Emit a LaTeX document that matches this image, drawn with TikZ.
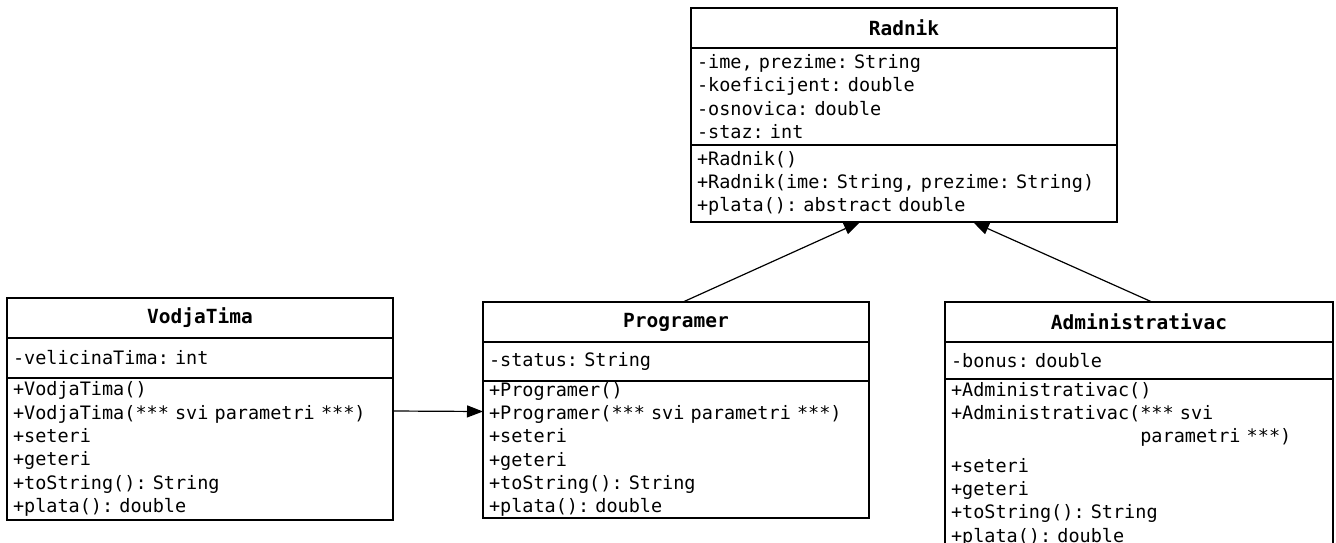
\documentclass[tikz,border=0pt]{standalone}
\usepackage{fontspec}
\setmonofont{DejaVu Sans Mono}
\usetikzlibrary{positioning,arrows.meta}

\newcommand\umlfont{\ttfamily\fontsize{18.5}{23.3}\selectfont\frenchspacing}
\newcommand\umlheadfont{\ttfamily\bfseries\fontsize{19.5}{23.3}\selectfont}

\tikzset{every picture/.style={line width=1.3pt}}

\begin{document}
\begin{tikzpicture}[x=1pt, y=-1pt,
                    classhead/.style={draw, anchor=north west, outer sep=0pt,
                                      inner xsep=6pt, inner ysep=0pt,
                                      minimum height=40pt, align=center,
                                      font=\umlheadfont},
                    classpart/.style={draw, anchor=north west, outer sep=0pt,
                                      inner xsep=6pt, inner ysep=0pt,
                                      align=left, font=\umlfont},
                    inherit/.style={line width=1.2pt, -{Triangle[length=16pt,width=12pt]}}]
  \useasboundingbox (0,0) rectangle (1336,542);
  \clip (0,0) rectangle (1336,542);

  % Radnik
  \node[classhead, text width=414pt] (radnik) at (691,8) {Radnik};
  \node[classpart, text width=414pt, minimum height=97pt,
        below=0pt of radnik.south west, anchor=north west] (radnikattr)
    {-ime, prezime: String\\-koeficijent: double\\-osnovica: double\\-staz: int};
  \node[classpart, text width=414pt, minimum height=77pt,
        below=0pt of radnikattr.south west, anchor=north west] (radnikmeth)
    {+Radnik()\\+Radnik(ime: String, prezime: String)\\+plata(): abstract double};

  % VodjaTima
  \node[classhead, text width=374pt] (vodja) at (7,298) {VodjaTima};
  \node[classpart, text width=374pt, minimum height=40pt,
        below=0pt of vodja.south west, anchor=north west] (vodjaattr)
    {-velicinaTima: int};
  \node[classpart, text width=374pt, minimum height=142pt,
        below=0pt of vodjaattr.south west, anchor=north west] (vodjameth)
    {+VodjaTima()\\+VodjaTima(*** svi parametri ***)\\+seteri\\+geteri\\+toString(): String\\+plata(): double};

  % Programer
  \node[classhead, text width=374pt] (prog) at (483,302) {Programer};
  \node[classpart, text width=374pt, minimum height=39pt,
        below=0pt of prog.south west, anchor=north west] (progattr)
    {-status: String};
  \node[classpart, text width=374pt, minimum height=137pt,
        below=0pt of progattr.south west, anchor=north west] (progmeth)
    {+Programer()\\+Programer(*** svi parametri ***)\\+seteri\\+geteri\\+toString(): String\\+plata(): double};

  % Administrativac
  \node[classhead, text width=376pt] (admin) at (945,302) {Administrativac};
  \node[classpart, text width=376pt, minimum height=37pt,
        below=0pt of admin.south west, anchor=north west] (adminattr)
    {-bonus: double};
  \node[classpart, text width=376pt, minimum height=170pt,
        below=0pt of adminattr.south west, anchor=north west] (adminmeth)
    {+Administrativac()\\+Administrativac(*** svi\\\phantom{+Administrativac(}parametri ***)\\[6pt]%
     +seteri\\+geteri\\+toString(): String\\+plata(): double};

  % inheritance
  \draw[inherit] ([xshift=7pt]prog.north) -- ([xshift=-44pt]radnikmeth.south);
  \draw[inherit] ([xshift=13pt]admin.north) -- ([xshift=69pt]radnikmeth.south);
  \draw[inherit] ([yshift=38pt]vodjameth.east) -- ([yshift=38pt]progmeth.west);
\end{tikzpicture}
\end{document}
